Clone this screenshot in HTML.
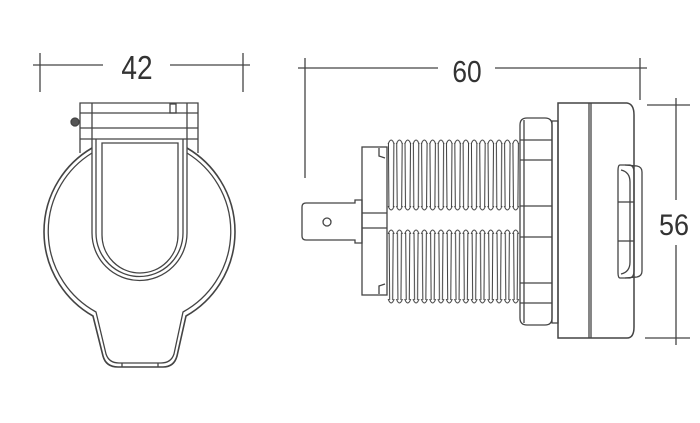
<!DOCTYPE html>
<html><head><meta charset="utf-8"><style>
html,body{margin:0;padding:0;background:#fff;}
svg{display:block}
text{font-family:"Liberation Sans",sans-serif;fill:#333;}
</style></head><body>
<svg width="700" height="423" viewBox="0 0 700 423" xmlns="http://www.w3.org/2000/svg">
<defs>
<pattern id="thr" x="387" y="0" width="8.3" height="423" patternUnits="userSpaceOnUse">
<path d="M0.3,0 L3.6,423 M4.7,423 L8,0" fill="none" stroke="#3a3a3a" stroke-width="1"/>
</pattern>
<pattern id="bump" x="387" y="0" width="8.3" height="423" patternUnits="userSpaceOnUse">
<circle cx="4.15" cy="0" r="0"/>
<path d="M0.8,8 Q4.15,-2 7.5,8" fill="none" stroke="#3a3a3a" stroke-width="1"/>
</pattern>
</defs>
<g stroke="#444" stroke-width="1.3" fill="none">
<!-- dim 42 -->
<line x1="40" y1="53" x2="40" y2="92"/>
<line x1="243" y1="53" x2="243" y2="92"/>
<line x1="33" y1="65" x2="103" y2="65"/>
<line x1="170" y1="65" x2="250" y2="65"/>
<!-- dim 60 -->
<line x1="305" y1="58" x2="305" y2="178"/>
<line x1="640" y1="58" x2="640" y2="100"/>
<line x1="298" y1="68" x2="438" y2="68"/>
<line x1="495" y1="68" x2="647" y2="68"/>
<!-- dim 56 -->
<line x1="647" y1="105" x2="690" y2="105"/>
<line x1="645" y1="338" x2="690" y2="338"/>
<line x1="676" y1="98" x2="676" y2="200"/>
<line x1="676" y1="245" x2="676" y2="345"/>

<!-- left view -->
<path d="M80,153 L80,103 L198,103 L198,153"/>
<line x1="80" y1="113" x2="198" y2="113"/>
<line x1="80" y1="128" x2="198" y2="128"/>
<line x1="80" y1="139" x2="198" y2="139"/>
<path d="M92,103 L92,233 A47.5,47.5 0 0 0 187,233 L187,103"/>
<path d="M96,139 L96,233 A43.5,43.5 0 0 0 183,233 L183,139"/>
<path d="M102,143 L178,143 L178,235 A38,38 0 0 1 102,235 Z"/>
<rect x="170" y="104" width="6" height="9"/>
<circle cx="75" cy="122" r="4" fill="#555"/>
<path d="M92,148 A97,97 0 0 0 93,316 L103,356 Q106,367 118,367 L163,367 Q174,367 177,356 L186,316 A97,97 0 0 0 187,148" stroke-width="1.6"/>
<path d="M92,153 A92,92 0 0 0 96,312 L106,354 Q109,363 119,363 L161,363 Q171,363 174,354 L183,312 A92,92 0 0 0 187,153"/>
<line x1="122" y1="363" x2="122" y2="367"/>
<line x1="158" y1="363" x2="158" y2="367"/>

<!-- right view -->
<path d="M302,207 Q302,203 306,203 L355,203 L355,200 L362,200 L362,243 L355,243 L355,240 L306,240 Q302,240 302,236 Z"/>
<circle cx="327" cy="222" r="4"/>
<rect x="362" y="147" width="25" height="148"/>
<line x1="362" y1="213" x2="387" y2="213"/>
<line x1="362" y1="228" x2="387" y2="228"/>
<path d="M379,148 l0,8 l6,2" />
<path d="M379,294 l0,-8 l6,-2" />
<rect x="387" y="143" width="133" height="64" fill="url(#thr)" stroke="none"/>
<rect x="387" y="233" width="133" height="67" fill="url(#thr)" stroke="none"/>
<g transform="translate(0,137)"><rect x="387" y="0" width="133" height="7" fill="url(#bump)" stroke="none"/></g>
<g transform="translate(0,227)"><rect x="387" y="0" width="133" height="7" fill="url(#bump)" stroke="none"/></g>
<g transform="translate(0,213) scale(1,-1)"><rect x="387" y="0" width="133" height="7" fill="url(#bump)" stroke="none"/></g>
<g transform="translate(0,306) scale(1,-1)"><rect x="387" y="0" width="133" height="7" fill="url(#bump)" stroke="none"/></g>
<path d="M520,125 Q520,118 527,118 L545,118 Q552,118 552,125 L552,318 Q552,325 545,325 L527,325 Q520,325 520,318 Z"/>
<line x1="524" y1="120" x2="524" y2="323"/>
<line x1="520" y1="140" x2="552" y2="140"/>
<line x1="520" y1="160" x2="552" y2="160"/>
<line x1="520" y1="206" x2="552" y2="206"/>
<line x1="520" y1="237" x2="552" y2="237"/>
<line x1="520" y1="283" x2="552" y2="283"/>
<line x1="520" y1="303" x2="552" y2="303"/>
<rect x="552" y="121" width="6" height="202"/>
<path d="M558,103 L627,103 Q634,104 634,115 L634,327 Q634,338 627,338 L558,338 Z" stroke-width="1.5"/>
<line x1="589" y1="103" x2="589" y2="338"/>
<line x1="591" y1="103" x2="591" y2="338"/>
<path d="M625,165 L637,166 Q642,167 642,172 L642,271 Q642,276 637,277 L625,278"/>
<path d="M620,165 L630,165 Q634,166 634,172 L634,271 Q634,277 630,278 L620,278 Q618,278 618,272 L618,171 Q618,165 620,165 Z"/>
<path d="M621,170 Q630,172 630,182 L630,262 Q630,272 621,274"/>
<line x1="618" y1="202" x2="634" y2="202"/>
<line x1="618" y1="241" x2="634" y2="241"/>
</g>
<text x="137" y="79" font-size="33" text-anchor="middle" transform="translate(137 0) scale(0.85 1) translate(-137 0)">42</text>
<text x="467" y="82" font-size="31" text-anchor="middle" transform="translate(467 0) scale(0.85 1) translate(-467 0)">60</text>
<text x="674" y="235" font-size="30" text-anchor="middle" transform="translate(674 0) scale(0.9 1) translate(-674 0)">56</text>
</svg>
</body></html>
